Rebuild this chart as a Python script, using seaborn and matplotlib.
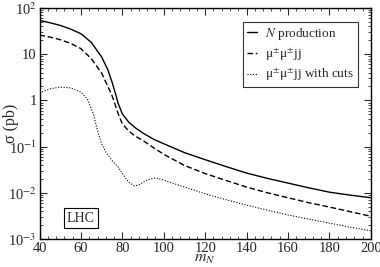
import matplotlib
matplotlib.use("Agg")
import matplotlib.pyplot as plt
import matplotlib.ticker as mticker
import seaborn as sns
import numpy as np

m_solid = [40, 45, 50, 55, 60, 65, 70, 73, 75, 77, 78, 80, 83, 86, 90, 95, 100, 110, 120, 130, 140, 150, 160, 170, 180, 190, 200]
s_solid = [54, 48, 42, 35, 27.8, 18, 8.7, 4.6, 2.5, 1.25, 0.85, 0.51, 0.34, 0.26, 0.195, 0.145, 0.115, 0.074, 0.052, 0.037, 0.0267, 0.0205, 0.0162, 0.0128, 0.0103, 0.0089, 0.0078]

m_dash = [40, 45, 50, 55, 60, 65, 70, 73, 75, 77, 78, 80, 83, 86, 90, 95, 100, 110, 120, 130, 140, 150, 160, 170, 180, 190, 200]
s_dash = [26, 23.5, 20.6, 17.2, 13.2, 8, 3.9, 2.0, 1.28, 0.7, 0.51, 0.31, 0.22, 0.17, 0.135, 0.095, 0.068, 0.039, 0.026, 0.0185, 0.0133, 0.0100, 0.0078, 0.0061, 0.0049, 0.0039, 0.0031]

m_dot = [40, 45, 50, 55, 60, 63, 66, 68, 70, 72, 75, 78, 80, 83, 86, 88, 92, 96, 100, 110, 120, 130, 140, 150, 160, 170, 180, 190, 200]
s_dot = [1.45, 1.78, 1.94, 1.87, 1.51, 1.09, 0.51, 0.22, 0.115, 0.076, 0.050, 0.036, 0.026, 0.017, 0.014, 0.0149, 0.019, 0.021, 0.0187, 0.0133, 0.0095, 0.0071, 0.0054, 0.0042, 0.0033, 0.0027, 0.0022, 0.0018, 0.0015]

labels = [r"$N$ production", r"μ$^{\pm}$μ$^{\pm}$jj", r"μ$^{\pm}$μ$^{\pm}$jj with cuts"]

sns.set_theme(style="ticks")
plt.rcParams['font.family'] = ['Liberation Serif', 'DejaVu Serif']
plt.rcParams['mathtext.fontset'] = 'stix'

fig = plt.figure(figsize=(3.8, 2.67), dpi=100)
ax = fig.add_axes([0.104, 0.105, 0.872, 0.865])

sns.lineplot(x=m_solid, y=s_solid, ax=ax, color='black', lw=1.0, linestyle='-', label=labels[0])
sns.lineplot(x=m_dash, y=s_dash, ax=ax, color='black', lw=1.0, linestyle=(0, (4, 2)), label=labels[1])
sns.lineplot(x=m_dot, y=s_dot, ax=ax, color='black', lw=0.8, linestyle=(0, (1, 1.5)), label=labels[2])

ax.set_yscale('log')
ax.set_xlim(40, 200)
ax.set_ylim(1e-3, 1e2)
ax.xaxis.set_major_locator(mticker.MultipleLocator(20))
ax.xaxis.set_minor_locator(mticker.MultipleLocator(4))
ax.yaxis.set_major_locator(mticker.LogLocator(base=10, numticks=10))
ax.yaxis.set_minor_locator(mticker.LogLocator(base=10, subs=np.arange(2, 10), numticks=20))
ax.yaxis.set_minor_formatter(mticker.NullFormatter())

def yfmt(v, pos):
    e = int(round(np.log10(v)))
    if e == 0:
        return "1"
    if e == 1:
        return "10"
    return r"10$^{%d}$" % e
ax.yaxis.set_major_formatter(mticker.FuncFormatter(yfmt))

ax.tick_params(which='both', direction='in', top=True, right=True, labelsize=10.5, pad=2)
ax.tick_params(which='major', length=5, width=0.8)
ax.tick_params(which='minor', length=2.5, width=0.6)
for s in ax.spines.values():
    s.set_linewidth(1.0)
    s.set_color('black')

ax.set_xlabel(r"$m_N$", fontsize=11.5, labelpad=-3.5)
ax.set_ylabel(r"σ (pb)", fontsize=11.5)
ax.yaxis.set_label_coords(-0.062, 0.5)

leg = ax.legend(loc='upper right', bbox_to_anchor=(0.961, 0.939), fontsize=9.5, frameon=True, fancybox=False,
                edgecolor='black', handlelength=0.8, handletextpad=0.6, borderpad=0.3, labelspacing=0.3,
                borderaxespad=0.0)
leg.get_frame().set_linewidth(0.8)

ax.text(60, 0.0028, "LHC", fontsize=10, ha='center', va='center',
        bbox=dict(boxstyle='square,pad=0.25', facecolor='white', edgecolor='black', linewidth=0.8))

fig.savefig("out.png", dpi=100)
